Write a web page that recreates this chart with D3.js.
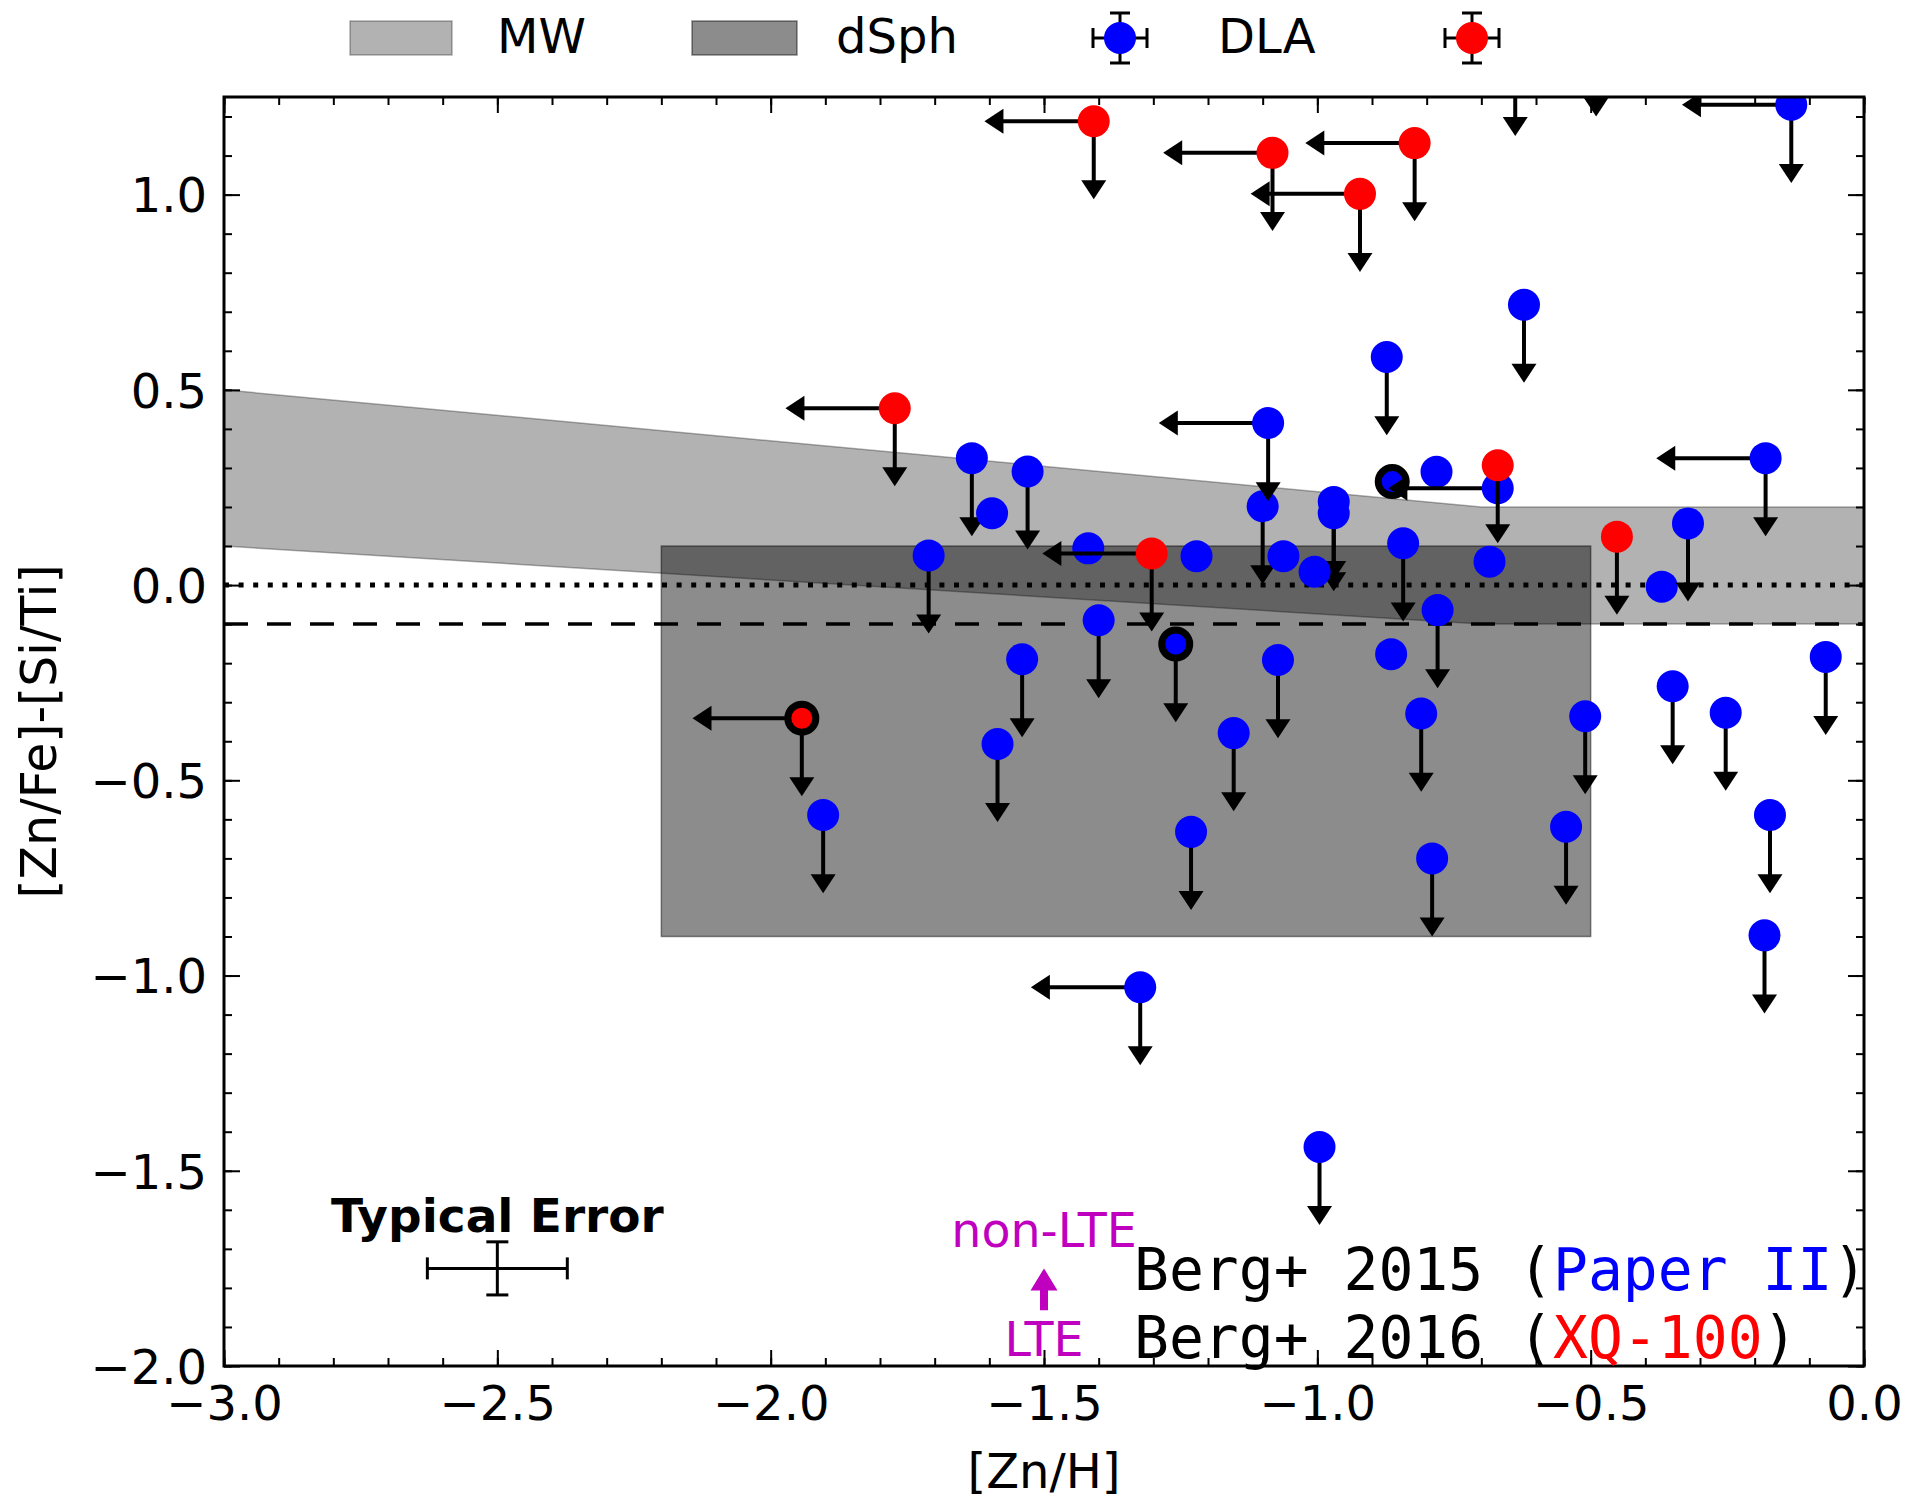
<!DOCTYPE html>
<html>
<head>
<meta charset="utf-8">
<script src="https://cdn.jsdelivr.net/npm/d3@7"></script>
<style>
  body { margin: 0; background: #fff; }
  svg { display: block; }
</style>
</head>
<body>
<svg id="chart" width="1907" height="1502"></svg>
<script>
// ---- Paper II DLAs (blue): [Zn/H], [Zn/Fe]-[Si/Ti], limit flags ----
const paperX = [-0.133, -0.638, -0.490, -0.622, -0.873, -1.100, -1.090, -0.180, -1.632, -1.530,
                -1.595, -0.782, -0.970, -0.970, -1.711, -1.221, -1.062, -1.005, -0.843, -0.685,
                -0.370, -0.322, -0.780, -1.400, -0.865, -1.540, -1.072, -0.810, -0.510, -0.350,
                -0.253, -0.070, -1.153, -1.585, -1.904, -0.172, -1.231, -0.545, -0.790, -0.182,
                -1.324, -0.996, -0.670, -1.419];
const paperY = [1.230, 1.350, 1.400, 0.718, 0.584, 0.202, 0.415, 0.325, 0.325, 0.291,
                0.184, 0.290, 0.213, 0.184, 0.076, 0.074, 0.074, 0.034, 0.107, 0.060,
                -0.004, 0.158, -0.064, -0.090, -0.177, -0.190, -0.192, -0.329, -0.336, -0.259,
                -0.327, -0.184, -0.379, -0.407, -0.589, -0.589, -0.632, -0.619, -0.700, -0.897,
                -1.030, -1.439, 0.248, 0.094];
// 1 = upper limit on [Zn/Fe]-[Si/Ti]
const paperYLim = [1, 1, 1, 1, 1, 1, 1, 1, 1, 1,
                   0, 0, 1, 1, 1, 0, 0, 0, 1, 0,
                   0, 1, 1, 1, 0, 1, 1, 1, 1, 1,
                   1, 1, 1, 1, 1, 1, 1, 1, 1, 1,
                   1, 1, 0, 0];
// 1 = upper limit on [Zn/H]
const paperXLim = [1, 0, 0, 0, 0, 0, 1, 1, 0, 0,
                   0, 0, 0, 0, 0, 0, 0, 0, 0, 0,
                   0, 0, 0, 0, 0, 0, 0, 0, 0, 0,
                   0, 0, 0, 0, 0, 0, 0, 0, 0, 0,
                   1, 0, 1, 0];

// ---- XQ-100 DLAs (red) ----
const xqX = [-1.409, -1.082, -0.822, -0.922, -1.773, -1.303, -0.670, -0.452];
const xqY = [1.188, 1.107, 1.132, 1.002, 0.453, 0.081, 0.307, 0.124];
const xqYLim = [1, 1, 1, 1, 1, 1, 1, 1];
const xqXLim = [1, 1, 1, 1, 1, 1, 0, 0];

// ---- highlighted systems (black ring) ----
const ringX = [-1.943, -1.259, -0.863];
const ringY = [-0.341, -0.151, 0.265];
const ringSample = ["xq", "paper", "paper"];
const ringYLim = [1, 1, 0];
const ringXLim = [1, 0, 0];

// ---- comparison regions ----
const mwX = [-3.0, -0.7, 0.0];
const mwHi = [0.5, 0.2, 0.2];
const mwLo = [0.1, -0.1, -0.1];
const dsphX = [-2.2, -0.5];
const dsphY = [-0.9, 0.1];

// ---- axes ----
const xTicks = [-3.0, -2.5, -2.0, -1.5, -1.0, -0.5, 0.0];
const yTicks = [-2.0, -1.5, -1.0, -0.5, 0.0, 0.5, 1.0];
const xDomain = [-3, 0];
const yDomain = [-2, 1.25];

// typical error bar and non-LTE correction
const errX = -2.5, errY = -1.75, errDX = 0.128, errDY = 0.068;
const nlteX = -1.5, nlteFrom = -1.857, nlteTo = -1.75;

const LIM = 0.2;               // length of limit arrows in data units
const BLUE = "#0000ff", RED = "#ff0000", MAGENTA = "#bf00bf";
const FONT = "'DejaVu Sans', sans-serif";
const MONO = "'DejaVu Sans Mono', monospace";

const svg = d3.select("#chart");
const L = 224, R = 1864, T = 97, B = 1366;
const x = d3.scaleLinear().domain(xDomain).range([L, R]);
const y = d3.scaleLinear().domain(yDomain).range([B, T]);

svg.append("defs").append("clipPath").attr("id", "plotclip")
  .append("rect").attr("x", L).attr("y", T).attr("width", R - L).attr("height", B - T);

const plot = svg.append("g").attr("clip-path", "url(#plotclip)");

// Milky Way band
const mwData = mwX.map((v, i) => ({ x: v, hi: mwHi[i], lo: mwLo[i] }));
plot.append("path")
  .datum(mwData)
  .attr("d", d3.area().x(d => x(d.x)).y0(d => y(d.lo)).y1(d => y(d.hi)))
  .attr("fill", "#000").attr("fill-opacity", 0.3)
  .attr("stroke", "#000").attr("stroke-opacity", 0.3).attr("stroke-width", 1.5);

// dwarf spheroidal box
plot.append("rect")
  .attr("x", x(dsphX[0])).attr("y", y(dsphY[1]))
  .attr("width", x(dsphX[1]) - x(dsphX[0])).attr("height", y(dsphY[0]) - y(dsphY[1]))
  .attr("fill", "#000").attr("fill-opacity", 0.45)
  .attr("stroke", "#000").attr("stroke-opacity", 0.45).attr("stroke-width", 1.5);

// reference lines
plot.append("line")
  .attr("x1", x(-3)).attr("x2", x(0)).attr("y1", y(0)).attr("y2", y(0))
  .attr("stroke", "#000").attr("stroke-width", 5).attr("stroke-dasharray", "5 9.6");
plot.append("line")
  .attr("x1", x(-3)).attr("x2", x(0)).attr("y1", y(-0.1)).attr("y2", y(-0.1))
  .attr("stroke", "#000").attr("stroke-width", 3.5).attr("stroke-dasharray", "24 19");

// limit arrows: stem from the point, filled caret with its tip at value - LIM
function drawLimits(g, px, py, yl, xl) {
  const cx = x(px), cy = y(py);
  if (yl) {
    const ty = y(py - LIM);
    g.append("line").attr("x1", cx).attr("y1", cy).attr("x2", cx).attr("y2", ty - 4)
      .attr("stroke", "#000").attr("stroke-width", 4);
    g.append("path")
      .attr("d", `M${cx},${ty}L${cx - 12.5},${ty - 19}L${cx + 12.5},${ty - 19}Z`)
      .attr("fill", "#000");
  }
  if (xl) {
    const tx = x(px - LIM);
    g.append("line").attr("x1", cx).attr("y1", cy).attr("x2", tx + 4).attr("y2", cy)
      .attr("stroke", "#000").attr("stroke-width", 4);
    g.append("path")
      .attr("d", `M${tx},${cy}L${tx + 19},${cy - 12.5}L${tx + 19},${cy + 12.5}Z`)
      .attr("fill", "#000");
  }
}

// highlighted systems
const ringG = plot.append("g");
ringX.forEach((v, i) => {
  drawLimits(ringG, v, ringY[i], ringYLim[i], ringXLim[i]);
  ringG.append("circle").attr("cx", x(v)).attr("cy", y(ringY[i])).attr("r", 14)
    .attr("fill", ringSample[i] === "xq" ? RED : BLUE)
    .attr("stroke", "#000").attr("stroke-width", 7);
});

// Paper II sample
const paperG = plot.append("g");
paperX.forEach((v, i) => {
  drawLimits(paperG, v, paperY[i], paperYLim[i], paperXLim[i]);
  paperG.append("circle").attr("cx", x(v)).attr("cy", y(paperY[i])).attr("r", 16).attr("fill", BLUE);
});

// XQ-100 sample
const xqG = plot.append("g");
xqX.forEach((v, i) => {
  drawLimits(xqG, v, xqY[i], xqYLim[i], xqXLim[i]);
  xqG.append("circle").attr("cx", x(v)).attr("cy", y(xqY[i])).attr("r", 16).attr("fill", RED);
});

// ---- axes with inward ticks on all four sides ----
const fmt = d3.format(".1f");
const xMinor = d3.range(-30, 1).map(v => v / 10);
const yMinor = d3.range(-20, 13).map(v => v / 10);

function styleAxis(g) {
  g.select(".domain").remove();
  g.selectAll(".tick line").attr("stroke", "#000").attr("stroke-width", 2);
  g.selectAll(".tick text").attr("font-family", FONT).attr("font-size", 48).attr("fill", "#000");
}

svg.append("g").attr("transform", `translate(0,${B})`)
  .call(d3.axisBottom(x).tickValues(xMinor).tickSize(-8).tickFormat("")).call(styleAxis);
svg.append("g").attr("transform", `translate(0,${B})`)
  .call(d3.axisBottom(x).tickValues(xTicks).tickSize(-16).tickPadding(20).tickFormat(fmt)).call(styleAxis);
svg.append("g").attr("transform", `translate(0,${T})`)
  .call(d3.axisTop(x).tickValues(xMinor).tickSize(-8).tickFormat("")).call(styleAxis);
svg.append("g").attr("transform", `translate(0,${T})`)
  .call(d3.axisTop(x).tickValues(xTicks).tickSize(-16).tickFormat("")).call(styleAxis);

svg.append("g").attr("transform", `translate(${L},0)`)
  .call(d3.axisLeft(y).tickValues(yMinor).tickSize(-8).tickFormat("")).call(styleAxis);
const yAx = svg.append("g").attr("transform", `translate(${L},0)`)
  .call(d3.axisLeft(y).tickValues(yTicks).tickSize(-16).tickPadding(17).tickFormat(fmt)).call(styleAxis);
yAx.selectAll(".tick text").attr("dy", "0.36em");
svg.append("g").attr("transform", `translate(${R},0)`)
  .call(d3.axisRight(y).tickValues(yMinor).tickSize(-8).tickFormat("")).call(styleAxis);
svg.append("g").attr("transform", `translate(${R},0)`)
  .call(d3.axisRight(y).tickValues(yTicks).tickSize(-16).tickFormat("")).call(styleAxis);

// frame
svg.append("rect").attr("x", L).attr("y", T).attr("width", R - L).attr("height", B - T)
  .attr("fill", "none").attr("stroke", "#000").attr("stroke-width", 3);

// axis titles
svg.append("text").attr("x", (L + R) / 2).attr("y", 1488).attr("text-anchor", "middle")
  .attr("font-family", FONT).attr("font-size", 48).text("[Zn/H]");
svg.append("text").attr("transform", `translate(56,${(T + B) / 2}) rotate(-90)`)
  .attr("text-anchor", "middle").attr("font-family", FONT).attr("font-size", 49)
  .text("[Zn/Fe]-[Si/Ti]");

// ---- typical error ----
const eg = svg.append("g").attr("stroke", "#000").attr("stroke-width", 3);
const ex = x(errX), ey = y(errY);
eg.append("line").attr("x1", x(errX - errDX)).attr("x2", x(errX + errDX)).attr("y1", ey).attr("y2", ey);
eg.append("line").attr("x1", ex).attr("x2", ex).attr("y1", y(errY - errDY)).attr("y2", y(errY + errDY));
[errX - errDX, errX + errDX].forEach(v =>
  eg.append("line").attr("x1", x(v)).attr("x2", x(v)).attr("y1", ey - 11).attr("y2", ey + 11));
[errY - errDY, errY + errDY].forEach(v =>
  eg.append("line").attr("x1", ex - 11).attr("x2", ex + 11).attr("y1", y(v)).attr("y2", y(v)));
svg.append("text").attr("x", ex).attr("y", 1232).attr("text-anchor", "middle")
  .attr("font-family", FONT).attr("font-size", 47).attr("font-weight", "bold").text("Typical Error");

// ---- LTE -> non-LTE correction arrow ----
const ax = x(nlteX), ay0 = y(nlteFrom), ay1 = y(nlteTo);
svg.append("path")
  .attr("d", `M${ax - 4},${ay0}L${ax - 4},${ay1 + 22}L${ax - 13.5},${ay1 + 22}L${ax},${ay1}` +
             `L${ax + 13.5},${ay1 + 22}L${ax + 4},${ay1 + 22}L${ax + 4},${ay0}Z`)
  .attr("fill", MAGENTA);
svg.append("text").attr("x", ax).attr("y", 1247).attr("text-anchor", "middle")
  .attr("font-family", FONT).attr("font-size", 47.5).attr("fill", MAGENTA).text("non-LTE");
svg.append("text").attr("x", ax).attr("y", 1356).attr("text-anchor", "middle")
  .attr("font-family", FONT).attr("font-size", 47.5).attr("fill", MAGENTA).text("LTE");

// ---- references ----
const refs = [
  { pre: "Berg+ 2015 (", name: "Paper II", color: BLUE, y: 1290 },
  { pre: "Berg+ 2016 (", name: "XQ-100", color: RED, y: 1358 }
];
refs.forEach(r => {
  const t = svg.append("text").attr("x", 1134).attr("y", r.y)
    .attr("font-family", MONO).attr("font-size", 58).attr("xml:space", "preserve");
  t.append("tspan").attr("fill", "#000").text(r.pre);
  t.append("tspan").attr("fill", r.color).text(r.name);
  t.append("tspan").attr("fill", "#000").text(")");
});

// ---- legend ----
const lg = svg.append("g");
lg.append("rect").attr("x", 350).attr("y", 21).attr("width", 102).attr("height", 34)
  .attr("fill", "#000").attr("fill-opacity", 0.3).attr("stroke", "#000").attr("stroke-opacity", 0.3).attr("stroke-width", 1.5);
lg.append("text").attr("x", 497).attr("y", 53).attr("font-family", FONT).attr("font-size", 48).text("MW");
lg.append("rect").attr("x", 692).attr("y", 21).attr("width", 105).attr("height", 34)
  .attr("fill", "#000").attr("fill-opacity", 0.45).attr("stroke", "#000").attr("stroke-opacity", 0.45).attr("stroke-width", 1.5);
lg.append("text").attr("x", 836).attr("y", 53).attr("font-family", FONT).attr("font-size", 48).text("dSph");

function legendMarker(cx, cy, color) {
  const g = lg.append("g").attr("stroke", "#000").attr("stroke-width", 3);
  g.append("line").attr("x1", cx - 27).attr("x2", cx + 27).attr("y1", cy).attr("y2", cy);
  g.append("line").attr("x1", cx).attr("x2", cx).attr("y1", cy - 25).attr("y2", cy + 25);
  g.append("line").attr("x1", cx - 27).attr("x2", cx - 27).attr("y1", cy - 10).attr("y2", cy + 10);
  g.append("line").attr("x1", cx + 27).attr("x2", cx + 27).attr("y1", cy - 10).attr("y2", cy + 10);
  g.append("line").attr("x1", cx - 10).attr("x2", cx + 10).attr("y1", cy - 25).attr("y2", cy - 25);
  g.append("line").attr("x1", cx - 10).attr("x2", cx + 10).attr("y1", cy + 25).attr("y2", cy + 25);
  lg.append("circle").attr("cx", cx).attr("cy", cy).attr("r", 16).attr("fill", color);
}
legendMarker(1120, 38, BLUE);
lg.append("text").attr("x", 1218).attr("y", 53).attr("font-family", FONT).attr("font-size", 48).text("DLA");
legendMarker(1472, 38, RED);
</script>
</body>
</html>
